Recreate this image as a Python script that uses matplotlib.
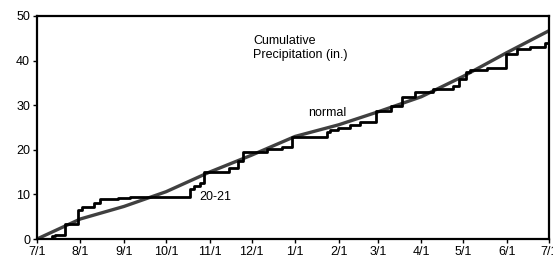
import numpy as np
import matplotlib
matplotlib.use('agg')
import matplotlib.pyplot as plt

plt.rcParams['font.family'] = ['Liberation Sans', 'DejaVu Sans']

# days since 7/1 for month ticks
month_days = [0, 31, 62, 92, 123, 153, 184, 215, 243, 274, 304, 335, 365]
month_labels = ['7/1', '8/1', '9/1', '10/1', '11/1', '12/1', '1/1', '2/1',
                '3/1', '4/1', '5/1', '6/1', '7/1']

# normal cumulative precipitation at each month start
normal_vals = [0, 4.5, 7.3, 10.6, 15.0, 18.8, 23.0, 25.6, 28.5, 31.9, 36.5, 41.8, 46.7]

# 2020-21 observed cumulative precipitation (step changes)
obs_days = [0, 10.5, 13, 20, 29.5, 32, 40.5, 45, 58, 66, 109, 112, 116, 119, 137, 143,
            147, 164, 175, 181.5, 206.5, 209, 214.5, 223, 230, 241.5, 252.5, 260,
            269.5, 282, 296.5, 301, 306, 308.5, 320.5, 334, 342, 351.5, 362, 365]
obs_vals = [0, 0.6, 1.0, 3.3, 6.5, 7.2, 8.0, 9.0, 9.2, 9.5, 11.2, 11.8, 12.5, 15.0, 16.0,
            17.5, 19.5, 20.2, 20.7, 22.8, 24.0, 24.4, 25.0, 25.6, 26.3, 28.7, 29.8,
            31.8, 33.0, 33.6, 34.3, 35.9, 37.5, 38.0, 38.3, 41.4, 42.5, 43.1, 43.9, 43.9]

fig = plt.figure(figsize=(5.53, 2.59), dpi=100)
ax = fig.add_axes([37 / 553, 20 / 259, 512 / 553, 223 / 259])

ax.plot(month_days, normal_vals, color='#404040', linewidth=2.4)
ax.plot(obs_days, obs_vals, color='black', linewidth=2.0, drawstyle='steps-post')

ax.set_xlim(0, 365)
ax.set_ylim(0, 50)
ax.set_xticks(month_days)
ax.set_xticklabels(month_labels)
ax.set_yticks([0, 10, 20, 30, 40, 50])
ax.tick_params(labelsize=9, length=3, width=1, pad=2)
for s in ax.spines.values():
    s.set_linewidth(1.6)

ax.text(154, 42.9, 'Cumulative\nPrecipitation (in.)', fontsize=9, va='center',
        linespacing=1.2)
ax.text(193, 28.2, 'normal', fontsize=9, va='center')
ax.text(116, 9.4, '20-21', fontsize=9, va='center')

plt.savefig('out.png', dpi=100)
